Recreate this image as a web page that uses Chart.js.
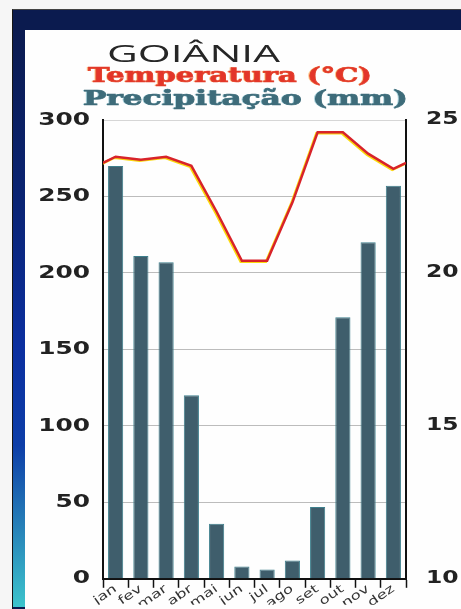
<!DOCTYPE html>
<html lang="pt">
<head>
<meta charset="utf-8">
<title>Goiânia – climograma</title>
<script src="https://cdn.jsdelivr.net/npm/chart.js@4.4.0/dist/chart.umd.min.js"></script>
<style>
  html, body { margin: 0; padding: 0; background: #fff; }
  #page { position: relative; width: 461px; height: 609px; overflow: hidden; background: #f6f6f6; }
  #frame { position: absolute; left: 12px; top: 9px; right: 0; bottom: 0; background: #0b1b4f; border-left: 1px solid #151515; border-top: 1px solid #444; }
  #strip { position: absolute; left: 13px; top: 30px; width: 12px; bottom: 2px;
    background: linear-gradient(to bottom, #0b1b50 0%, #0a2474 30%, #0b2fa0 55%, #0d3ea8 72%, #2680b8 86%, #3cc4cc 100%); }
  #panel { position: absolute; left: 25px; top: 30px; right: 0; bottom: 0; background: #fefefe; }
  canvas { position: absolute; left: 0; top: 0; }
  .ttl { position: absolute; white-space: nowrap; line-height: 1; transform-origin: 0 0; }
  #t1 { left: 107px; top: 37px; font: 23px "Open Sans", sans-serif; color: #262626; }
  #t2 { left: 88px; top: 62px; font: bold 21px "DejaVu Serif", serif; color: #e3352a; -webkit-text-stroke: 0.7px #e3402a; text-shadow: -1px 0 rgba(255,150,40,0.55); }
  #t3 { left: 83px; top: 85px; font: bold 21px "DejaVu Serif", serif; color: #3e6c7a; -webkit-text-stroke: 0.7px #3e6c7a; text-shadow: -1px 0 rgba(90,170,190,0.5); }
</style>
</head>
<body>
<div id="page">
  <div id="frame"></div>
  <div id="strip"></div>
  <div id="panel"></div>
  <canvas id="chart" width="461" height="609"></canvas>
  <div class="ttl" id="t1" data-w="173">GOIÂNIA</div>
  <div class="ttl" id="t2" data-w="284">Temperatura (°C)</div>
  <div class="ttl" id="t3" data-w="325">Precipitação (mm)</div>
</div>
<script>
// Monthly climate normals for Goiânia
const months = ['jan', 'fev', 'mar', 'abr', 'mai', 'jun', 'jul', 'ago', 'set', 'out', 'nov', 'dez'];
const rainfall = [270, 211, 207, 120, 36, 8, 6, 12, 47, 171, 220, 257];          // mm
const temperature = [23.8, 23.7, 23.8, 23.5, 22.0, 20.4, 20.4, 22.3, 24.6, 24.6, 23.9, 23.4]; // °C
const tempAtEdges = [23.6, 23.6];   // line value where it meets the left and right axes
const rainTicks = [0, 50, 100, 150, 200, 250, 300];
const tempTicks = [10, 15, 20, 25];

// stretch the heading lines to their set widths
document.querySelectorAll('.ttl').forEach(el => {
  const w = el.getBoundingClientRect().width;
  el.style.transform = 'scaleX(' + (Number(el.dataset.w) / w) + ')';
});

// temperature line runs edge to edge on a linear axis aligned with the month slots
const tempPoints = [{ x: -0.5, y: tempAtEdges[0] }]
  .concat(temperature.map((t, i) => ({ x: i, y: t })))
  .concat([{ x: months.length - 0.5, y: tempAtEdges[1] }]);

// extended (horizontally widened) lettering for the axis labels
const WIDEN = 1.38;
const wideTicks = {
  id: 'wideTicks',
  beforeDraw(chart) {
    const ctx = chart.ctx;
    const base = CanvasRenderingContext2D.prototype.fillText;
    ctx.fillText = function (text, x, y, maxWidth) {
      this.save();
      this.translate(x, y);
      this.scale(WIDEN, 1);
      if (maxWidth === undefined) base.call(this, text, 0, 0);
      else base.call(this, text, 0, 0, maxWidth / WIDEN);
      this.restore();
    };
  },
  beforeDatasetsDraw(chart) { delete chart.ctx.fillText; }
};

// yellow misregistration edge under the red line
const lineEdge = {
  id: 'lineEdge',
  beforeDatasetDraw(chart, args) {
    if (args.index !== 0) return;
    const ctx = chart.ctx;
    ctx.save();
    ctx.shadowColor = 'rgba(250,215,0,0.95)';
    ctx.shadowOffsetX = -1.2;
    ctx.shadowOffsetY = 1;
    ctx.shadowBlur = 0;
  },
  afterDatasetDraw(chart, args) {
    if (args.index !== 0) return;
    chart.ctx.restore();
  }
};

const tickFont = { family: '"DejaVu Sans", sans-serif', weight: 'bold', size: 18 };

new Chart(document.getElementById('chart'), {
  data: {
    labels: months,
    datasets: [
      {
        type: 'line',
        label: 'Temperatura (°C)',
        data: tempPoints,
        xAxisID: 'xt',
        yAxisID: 'yT',
        borderColor: '#d8232a',
        borderWidth: 2.5,
        pointRadius: 0,
        tension: 0,
        fill: false,
        order: 0
      },
      {
        type: 'bar',
        label: 'Precipitação (mm)',
        data: rainfall,
        xAxisID: 'x',
        yAxisID: 'y',
        backgroundColor: '#3f5e6c',
        borderColor: '#3d7f8c',
        borderWidth: 1,
        grouped: false,
        categoryPercentage: 1,
        barPercentage: 0.6,
        order: 1
      }
    ]
  },
  options: {
    responsive: false,
    animation: false,
    layout: { padding: { top: 120, left: 0, right: 0, bottom: 0 } },
    plugins: { legend: { display: false }, tooltip: { enabled: false }, title: { display: false } },
    scales: {
      x: {
        type: 'category',
        position: 'bottom',
        offset: true,
        afterFit(s) { s.height = 26; },
        grid: { offset: true, drawOnChartArea: false, drawTicks: true, tickLength: 9, tickColor: '#111', tickWidth: 1.5 },
        border: { display: true, color: '#111', width: 2 },
        ticks: { minRotation: 35, maxRotation: 35, autoSkip: false, padding: -6, color: '#333',
                 font: { family: '"DejaVu Sans", sans-serif', size: 12 } }
      },
      xt: {
        type: 'linear',
        display: false,
        min: -0.5,
        max: months.length - 0.5
      },
      y: {
        type: 'linear',
        position: 'left',
        min: rainTicks[0],
        max: rainTicks[rainTicks.length - 1],
        afterFit(s) { s.width = 103; },
        afterBuildTicks(s) { s.ticks = rainTicks.map(v => ({ value: v })); },
        grid: { drawTicks: false, lineWidth: 1, color: ctx => ctx.tick && ctx.tick.value === 300 ? '#d6d6d6' : '#bcbcbc' },
        border: { display: true, color: '#111', width: 2 },
        ticks: { padding: 13, color: '#222', font: tickFont }
      },
      yT: {
        type: 'linear',
        position: 'right',
        min: tempTicks[0],
        max: tempTicks[tempTicks.length - 1],
        afterFit(s) { s.width = 55; },
        afterBuildTicks(s) { s.ticks = tempTicks.map(v => ({ value: v })); },
        grid: { drawOnChartArea: false, drawTicks: false },
        border: { display: true, color: '#111', width: 2 },
        ticks: { padding: 20, color: '#222', font: { family: '"DejaVu Sans", sans-serif', weight: 'bold', size: 17 } }
      }
    }
  },
  plugins: [wideTicks, lineEdge]
});
</script>
</body>
</html>
